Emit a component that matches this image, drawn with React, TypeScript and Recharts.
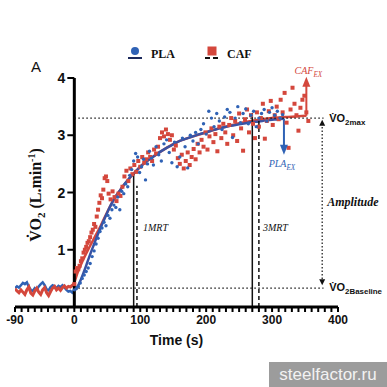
import React from "react";
import {
  ComposedChart,
  Line,
  Scatter,
  XAxis,
  YAxis,
  ReferenceLine,
  ReferenceDot,
} from "recharts";

// pre-exercise baseline (s, L/min)
const preTime = [-90, -87, -84, -81, -78, -75, -72, -69, -66, -63, -60, -57, -54, -51, -48, -45, -42, -39, -36, -33, -30, -27, -24, -21, -18, -15, -12, -9, -6, -3, 0];
const plaPreVO2 = [0.33, 0.36, 0.34, 0.38, 0.42, 0.4, 0.43, 0.35, 0.3, 0.28, 0.33, 0.3, 0.36, 0.4, 0.43, 0.38, 0.31, 0.29, 0.35, 0.38, 0.36, 0.33, 0.37, 0.35, 0.38, 0.34, 0.3, 0.27, 0.28, 0.25, 0.3];
const cafPreVO2 = [0.32, 0.28, 0.25, 0.3, 0.26, 0.22, 0.3, 0.35, 0.24, 0.21, 0.28, 0.33, 0.26, 0.22, 0.3, 0.34, 0.25, 0.2, 0.27, 0.33, 0.36, 0.3, 0.33, 0.29, 0.34, 0.37, 0.33, 0.36, 0.35, 0.38, 0.4];

// breath-by-breath PLA
const plaTime = [
  0, 3, 6, 9, 12, 15, 18, 21, 24, 27, 30, 33, 36, 39, 42, 45, 48, 51, 54, 57, 60, 63, 66, 69, 72, 75, 78, 81, 84, 87, 90, 93, 96, 99, 102, 105, 108, 111, 114, 117, 120,
  124, 128, 132, 136, 140, 144, 148, 152, 156, 160, 164, 168, 172, 176, 180, 184, 188, 192, 196, 200, 204, 208, 212, 216, 220, 224, 228, 232, 236, 240, 244, 248, 252, 256, 260, 264, 268, 272, 276, 280, 284, 288, 292, 296, 300, 304, 308, 312, 316,
];
const plaVO2 = [
  0.3, 0.32, 0.36, 0.42, 0.5, 0.56, 0.62, 0.68, 0.76, 0.88, 0.98, 1.1, 1.2, 1.32, 1.38, 1.48, 1.42, 1.6, 1.55, 1.7, 1.78, 1.74, 1.92, 1.7, 2.02, 1.98, 2.15, 2.1, 2.3, 2.4, 2.55, 2.68, 2.62, 2.35, 2.45, 2.58, 2.22, 2.5, 2.72, 2.6, 2.48,
  2.8, 2.66, 2.55, 2.85, 2.92, 2.7, 2.52, 2.88, 2.45, 2.62, 2.95, 2.8, 2.43, 3.0, 2.9, 3.05, 2.85, 3.1, 3.2, 3.02, 3.42, 3.3, 3.15, 3.38, 3.25, 3.1, 3.32, 3.45, 3.4, 2.96, 3.3, 3.5, 3.22, 3.38, 3.46, 3.2, 3.35, 3.42, 3.15, 3.3, 3.38, 3.45, 3.25, 3.4, 3.48, 3.35, 3.42, 3.3, 3.36,
];

// breath-by-breath CAF
const cafTime = [
  0, 2, 4, 6, 8, 10, 12, 14, 16, 18, 20, 22, 24, 26, 28, 30, 32, 34, 36, 38, 40, 42, 44, 46, 48, 50,
  52, 55, 58, 61, 64, 67, 70, 73, 76, 79,
  82, 85, 88, 91, 94, 97, 100, 103, 106, 109,
  112, 115, 118, 121, 124, 127, 130, 133, 136, 139,
  142, 145, 148, 151, 154, 157, 160, 163, 166, 169,
  172, 175, 178, 181, 184, 187, 190, 193, 196, 199,
  202, 205, 208, 211, 214, 217, 220, 223, 226, 229,
  232, 235, 238, 241, 244, 247, 250, 253, 256, 259,
  262, 265, 268, 271, 274, 277, 280, 283, 286, 289,
  292, 295, 298, 301, 304, 307, 310, 313, 316, 319,
  322, 325, 328, 331, 334, 337, 340, 343, 346, 349,
  352, 355,
];
const cafVO2 = [
  0.4, 0.62, 0.68, 0.66, 0.72, 0.8, 0.85, 0.95, 1.0, 1.05, 1.12, 1.15, 1.22, 1.3, 1.35, 1.45, 1.4, 1.58, 1.7, 1.82, 1.95, 1.9, 2.05, 2.25, 2.28, 2.2,
  1.98, 1.88, 2.02, 1.92, 1.85, 1.98, 1.94, 2.1, 2.28, 2.38,
  2.2, 2.42, 2.32, 2.48, 2.36, 2.55, 2.45, 2.62, 2.52, 2.58,
  2.7, 2.62, 2.55, 2.75, 2.68, 2.8, 2.95, 3.05, 2.98, 3.1,
  3.02, 2.92, 3.0, 2.75, 2.82, 2.6, 2.5, 2.66, 2.42, 2.55,
  2.7, 2.48, 2.62, 2.76, 2.58, 2.85, 2.7, 2.92, 2.8, 3.05,
  2.75, 2.98, 3.12, 2.88, 3.02, 2.72, 3.15, 2.95, 3.2, 3.05,
  2.85, 3.18, 3.3, 3.0, 3.25, 2.9, 3.38, 3.12, 2.73, 3.28,
  3.45, 3.05, 3.35, 3.2, 2.95, 3.4, 3.15, 3.3, 3.55, 2.94,
  3.25, 3.42, 3.6, 3.18, 3.35, 3.5, 3.28, 3.62, 3.4, 3.74,
  3.22, 2.78, 3.45, 3.83, 3.55, 3.35, 3.08, 3.48, 3.62, 3.69,
  3.4, 3.25,
];

// fitted responses
const plaFitTime = [0, 5, 10, 15, 20, 25, 30, 35, 40, 45, 50, 55, 60, 65, 70, 75, 80, 85, 90, 95, 100, 110, 120, 130, 140, 150, 160, 170, 180, 190, 200, 210, 220, 230, 240, 250, 260, 270, 280, 290, 300, 310, 318];
const plaFitVO2 = [0.3, 0.36, 0.48, 0.63, 0.79, 0.95, 1.1, 1.25, 1.39, 1.52, 1.65, 1.77, 1.88, 1.97, 2.05, 2.13, 2.2, 2.27, 2.33, 2.39, 2.45, 2.55, 2.63, 2.71, 2.78, 2.84, 2.9, 2.94, 2.98, 3.02, 3.05, 3.09, 3.12, 3.15, 3.17, 3.19, 3.21, 3.23, 3.24, 3.26, 3.27, 3.28, 3.29];
const cafFitTime = [0, 5, 10, 20, 30, 40, 50, 60, 70, 80, 90, 100, 120, 140, 160, 180, 200, 220, 240, 260, 280, 300, 320, 340, 352];
const cafFitVO2 = [0.42, 0.6, 0.74, 0.98, 1.2, 1.42, 1.66, 1.88, 2.05, 2.2, 2.33, 2.45, 2.63, 2.78, 2.9, 2.98, 3.05, 3.12, 3.18, 3.23, 3.27, 3.3, 3.32, 3.33, 3.34];

// exhaustion arrows
const plaExTime = [318, 318];
const plaExVO2 = [3.29, 2.8];
const cafExTime = [352, 352];
const cafExVO2 = [3.34, 3.88];

// reference values
const vo2Max = 3.3;
const vo2Base = 0.33;
const mrt1 = [90, 95];
const mrt1Top = [2.33, 2.12];
const mrt3 = [270, 280];
const mrt3Top = [3.39, 3.29];
const ampTime = 376;

const majorTicks = [-90, 0, 100, 200, 300, 400];
const yTicks = [1, 2, 3, 4];
const xTicks = Array.from({ length: 50 }, (_, i) => -90 + i * 10);

const zip = (t: number[], v: number[]) => t.map((x, i) => ({ t: x, v: v[i] }));

const BLUE = "#2f62b5";
const BLUE_FIT = "#3a52a3";
const RED = "#d4473c";
const SANS = "'Liberation Sans', Arial, sans-serif";
const SERIF = "'Liberation Serif', 'Times New Roman', serif";

const Note = ({ cx, cy, text, sub, dx = 0, dy = 0, anchor = "start", size = 10, italic = false, bold = false, color = "#111", family = SERIF }: any) => (
  <text x={cx + dx} y={cy + dy} textAnchor={anchor} fontSize={size} fontStyle={italic ? "italic" : "normal"} fontWeight={bold ? "bold" : "normal"} fill={color} fontFamily={family}>
    {text}
    {sub && (
      <tspan dy={size * 0.3} fontSize={size * 0.72}>
        {sub}
      </tspan>
    )}
  </text>
);

export default function App() {
  return (
    <div style={{ position: "absolute", left: 0, top: 0, width: 387, height: 387, background: "#fff", overflow: "hidden" }}>
      <ComposedChart width={387} height={387} margin={{ top: 78, right: 49, left: 15, bottom: 30 }}>
        <XAxis
          type="number"
          dataKey="t"
          domain={[-90, 400]}
          ticks={xTicks}
          interval={0}
          allowDataOverflow
          tickFormatter={(v: number) => (majorTicks.includes(v) ? String(v) : "")}
          tickSize={5}
          tickMargin={3}
          axisLine={{ stroke: "#000", strokeWidth: 3 }}
          tickLine={{ stroke: "#000", strokeWidth: 2 }}
          tick={{ fill: "#111", fontSize: 12, fontWeight: "bold", fontFamily: SANS }}
          height={50}
          label={{ value: "Time (s)", position: "insideBottom", offset: 12, fill: "#111", fontSize: 14, fontWeight: "bold", fontFamily: SANS }}
        />
        <YAxis hide type="number" dataKey="v" domain={[0, 4]} allowDataOverflow />

        <Scatter data={zip(cafTime, cafVO2)} isAnimationActive={false} shape={(p: any) => <rect x={p.cx - 2} y={p.cy - 2} width={4} height={4} fill={RED} />} />
        <Scatter data={zip(plaTime, plaVO2)} isAnimationActive={false} shape={(p: any) => <circle cx={p.cx} cy={p.cy} r={1.7} fill={BLUE} />} />

        <Line data={zip(preTime, plaPreVO2)} dataKey="v" type="linear" stroke={BLUE} strokeWidth={2.5} dot={false} isAnimationActive={false} />
        <Line data={zip(preTime, cafPreVO2)} dataKey="v" type="linear" stroke={RED} strokeWidth={3} dot={false} isAnimationActive={false} />
        <Line data={zip(cafFitTime, cafFitVO2)} dataKey="v" type="monotone" stroke={RED} strokeWidth={2.5} dot={false} isAnimationActive={false} />
        <Line data={zip(plaFitTime, plaFitVO2)} dataKey="v" type="monotone" stroke={BLUE_FIT} strokeWidth={2.5} dot={false} isAnimationActive={false} />
        <Line data={zip(plaExTime, plaExVO2)} dataKey="v" stroke={BLUE} strokeWidth={2} dot={false} isAnimationActive={false} />
        <Line data={zip(cafExTime, cafExVO2)} dataKey="v" stroke={RED} strokeWidth={2} dot={false} isAnimationActive={false} />

        {/* y axis drawn at t = 0 */}
        <ReferenceLine x={0} stroke="#000" strokeWidth={3} />
        {yTicks.map((v) => (
          <ReferenceDot
            key={v}
            x={0}
            y={v}
            shape={(p: any) => (
              <g>
                <line x1={p.cx - 7} x2={p.cx} y1={p.cy} y2={p.cy} stroke="#000" strokeWidth={2} />
                <text x={p.cx - 9} y={p.cy} dy="0.36em" textAnchor="end" fontSize={14} fontWeight="bold" fontFamily={SANS} fill="#111">
                  {v}
                </text>
              </g>
            )}
          />
        ))}

        <ReferenceLine segment={[{ x: 0, y: vo2Max }, { x: ampTime + 2, y: vo2Max }]} stroke="#111" strokeWidth={1.3} strokeDasharray="1.5 2.5" />
        <ReferenceLine segment={[{ x: 0, y: vo2Base }, { x: ampTime + 2, y: vo2Base }]} stroke="#111" strokeWidth={1.3} strokeDasharray="1.5 2.5" />
        <ReferenceLine segment={[{ x: ampTime, y: vo2Base + 0.1 }, { x: ampTime, y: vo2Max - 0.1 }]} stroke="#111" strokeWidth={1.2} strokeDasharray="1.5 2" />
        <ReferenceDot x={ampTime} y={vo2Max - 0.03} shape={(p: any) => <polygon points={`${p.cx - 3},${p.cy + 6} ${p.cx + 3},${p.cy + 6} ${p.cx},${p.cy}`} fill="#111" />} />
        <ReferenceDot x={ampTime} y={vo2Base + 0.05} shape={(p: any) => <polygon points={`${p.cx - 3},${p.cy - 6} ${p.cx + 3},${p.cy - 6} ${p.cx},${p.cy}`} fill="#111" />} />

        <ReferenceLine segment={[{ x: mrt1[0], y: 0 }, { x: mrt1[0], y: mrt1Top[0] }]} stroke="#111" strokeWidth={1.5} />
        <ReferenceLine segment={[{ x: mrt1[1], y: 0 }, { x: mrt1[1], y: mrt1Top[1] }]} stroke="#111" strokeWidth={1.5} strokeDasharray="4 3" />
        <ReferenceLine segment={[{ x: mrt3[0], y: 0 }, { x: mrt3[0], y: mrt3Top[0] }]} stroke="#111" strokeWidth={1.5} />
        <ReferenceLine segment={[{ x: mrt3[1], y: 0 }, { x: mrt3[1], y: mrt3Top[1] }]} stroke="#111" strokeWidth={1.5} strokeDasharray="4 3" />

        <ReferenceDot x={mrt1[1]} y={1.4} shape={(p: any) => <Note cx={p.cx} cy={p.cy} dx={6} dy={4} text="1MRT" italic size={10} />} />
        <ReferenceDot x={mrt3[1]} y={1.4} shape={(p: any) => <Note cx={p.cx} cy={p.cy} dx={4} dy={4} text="3MRT" italic size={10} />} />

        <ReferenceDot x={plaExTime[1]} y={plaExVO2[1]} shape={(p: any) => (
          <g>
            <polygon points={`${p.cx - 4},${p.cy - 2} ${p.cx + 4},${p.cy - 2} ${p.cx},${p.cy + 8}`} fill={BLUE} />
            <Note cx={p.cx} cy={p.cy} dx={-2} dy={20} anchor="middle" text="PLA" sub="EX" italic size={10} color={BLUE} />
          </g>
        )} />
        <ReferenceDot x={cafExTime[1]} y={cafExVO2[1]} shape={(p: any) => (
          <g>
            <polygon points={`${p.cx - 4},${p.cy + 2} ${p.cx + 4},${p.cy + 2} ${p.cx},${p.cy - 8}`} fill={RED} />
            <Note cx={p.cx} cy={p.cy} dx={2} dy={-11} anchor="middle" text="CAF" sub="EX" italic size={10} color={RED} />
          </g>
        )} />

        <ReferenceDot x={ampTime} y={vo2Max} shape={(p: any) => <Note cx={p.cx} cy={p.cy} dx={7} dy={4} text="V̇O" sub="2max" bold size={11} family={SANS} />} />
        <ReferenceDot x={ampTime} y={vo2Base} shape={(p: any) => <Note cx={p.cx} cy={p.cy} dx={7} dy={3} text="V̇O" sub="2Baseline" bold size={11} family={SANS} />} />
        <ReferenceDot x={ampTime} y={1.83} shape={(p: any) => <Note cx={p.cx} cy={p.cy} dx={5} dy={4} text="Amplitude" italic bold size={12} />} />
      </ComposedChart>

      <svg width={387} height={387} style={{ position: "absolute", left: 0, top: 0, pointerEvents: "none" }}>
        <text x={31} y={72} fontSize={15} fontFamily={SANS} fill="#111">A</text>
        <text transform="translate(41,195) rotate(-90)" textAnchor="middle" fontSize={16} fontWeight="bold" fontFamily={SERIF} fill="#111">
          V̇O<tspan dy={4} fontSize={11}>2</tspan>
          <tspan dy={-4}> (L.min</tspan>
          <tspan dy={-6} fontSize={10}>-1</tspan>
          <tspan dy={6}>)</tspan>
        </text>
        <circle cx={135} cy={51} r={4} fill={BLUE} />
        <line x1={128} x2={142} y1={58} y2={58} stroke="#1c2a5c" strokeWidth={2} />
        <text x={151} y={58} fontSize={12} fontWeight="bold" fontFamily={SERIF} fill="#111">PLA</text>
        <rect x={207.5} y={46.5} width={9} height={9} fill={RED} />
        <line x1={205} x2={219} y1={58} y2={58} stroke="#111" strokeWidth={2} strokeDasharray="5 3" />
        <text x={227} y={58} fontSize={12} fontWeight="bold" fontFamily={SERIF} fill="#111">CAF</text>
      </svg>

      <div style={{ position: "absolute", left: 269, top: 362, width: 118, height: 25, background: "#9c9c9c", color: "#f2f2f2", fontFamily: SANS, fontSize: 17, lineHeight: "25px", textAlign: "center" }}>
        steelfactor.ru
      </div>
    </div>
  );
}
